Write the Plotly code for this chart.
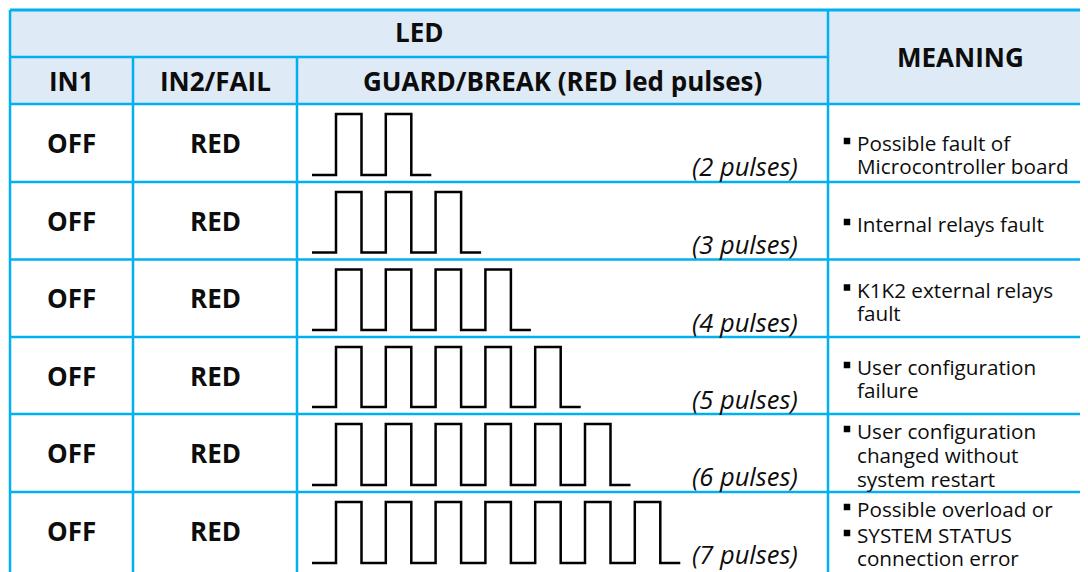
import plotly.graph_objects as go

# ---------------- data ----------------
in1_states = ["OFF", "OFF", "OFF", "OFF", "OFF", "OFF"]
in2_states = ["RED", "RED", "RED", "RED", "RED", "RED"]
pulse_counts = [2, 3, 4, 5, 6, 7]
pulse_labels = ["(2 pulses)", "(3 pulses)", "(4 pulses)", "(5 pulses)", "(6 pulses)", "(7 pulses)"]
meaning_lines = [
    [(True, "Possible fault of"), (False, "Microcontroller board")],
    [(True, "Internal relays fault")],
    [(True, "K1K2 external relays"), (False, "fault")],
    [(True, "User configuration"), (False, "failure")],
    [(True, "User configuration"), (False, "changed without"), (False, "system restart")],
    [(True, "Possible overload or"), (True, "SYSTEM STATUS"), (False, "connection error")],
]
header_top = "LED"
header_meaning = "MEANING"
header_cols = ["IN1", "IN2/FAIL", "GUARD/BREAK (RED led pulses)"]

# ---------------- geometry / style ----------------
W, H = 1088, 572
PAGE_MARGIN = 8  # default body margin of the html page
BORDER = "#00B0F0"
HEAD_BG = "#DEEAF6"
col_x = [10, 133, 297, 828, 1100]
row_y = [104, 182, 259.5, 337, 414, 492, 570]
top_y, mid_y = 10, 57
meaning_offsets = [[39, 62], [42], [30, 53], [30, 53], [17, 41, 65], [17, 43, 66]]
FONT = "Open Sans"
BOLD_SIZE = 26
LABEL_SIZE = 25.5
MEAN_SIZE = 20.7

fig = go.Figure()
shapes = []
annotations = []

# header background
shapes.append(dict(type="rect", x0=col_x[0], x1=W + 20, y0=top_y, y1=row_y[0],
                   fillcolor=HEAD_BG, line_width=0, layer="below"))


def hline(y, x0, x1, w=2.5):
    shapes.append(dict(type="line", x0=x0, x1=x1, y0=y, y1=y,
                       line=dict(color=BORDER, width=w)))


def vline(x, y0, y1, w=2.5):
    shapes.append(dict(type="line", x0=x, x1=x, y0=y0, y1=y1,
                       line=dict(color=BORDER, width=w)))


hline(top_y, col_x[0], W + 20, 3)
hline(mid_y, col_x[0], col_x[3])
for y in row_y[:-1]:
    hline(y, col_x[0], W + 20)
vline(col_x[0], top_y, H + 20)
vline(col_x[1], mid_y, H + 20)
vline(col_x[2], mid_y, H + 20)
vline(col_x[3], top_y, H + 20)


def text(x, y, s, size, bold=False, italic=False, xanchor="center"):
    if bold:
        s = "<b>" + s + "</b>"
    if italic:
        s = "<i>" + s + "</i>"
    annotations.append(dict(x=x, y=y, text=s, showarrow=False, xanchor=xanchor,
                            yanchor="middle", xref="x", yref="y", borderpad=0,
                            font=dict(family=FONT, size=size, color="#0d0d0d")))


# headers
text((col_x[0] + col_x[3]) / 2, 31.5, header_top, BOLD_SIZE, bold=True)
text((col_x[3] + 1092) / 2, (top_y + row_y[0]) / 2, header_meaning, BOLD_SIZE, bold=True)
for i, h in enumerate(header_cols):
    text((col_x[i] + col_x[i + 1]) / 2, (mid_y + row_y[0]) / 2, h, BOLD_SIZE, bold=True)

# rows
wave_x0, first_rise, high_w, period, tail = 312, 336, 25.5, 49.8, 20
for r in range(len(pulse_counts)):
    top, bot = row_y[r], row_y[r + 1]
    cy = (top + bot) / 2
    text((col_x[0] + col_x[1]) / 2, cy, in1_states[r], BOLD_SIZE, bold=True)
    text((col_x[1] + col_x[2]) / 2, cy, in2_states[r], BOLD_SIZE, bold=True)

    hi, lo = top + 10, bot - 7
    xs, ys = [wave_x0], [lo]
    for k in range(pulse_counts[r]):
        rise = first_rise + k * period
        fall = rise + high_w
        xs += [rise, rise, fall, fall]
        ys += [lo, hi, hi, lo]
    xs.append(xs[-1] + tail)
    ys.append(lo)
    fig.add_trace(go.Scatter(x=xs, y=ys, mode="lines", hoverinfo="skip",
                             line=dict(color="black", width=2.5, shape="linear"),
                             showlegend=False))
    text(799, top + 62, pulse_labels[r], LABEL_SIZE, italic=True, xanchor="right")

    bx, by = [], []
    for (bullet, line), off in zip(meaning_lines[r], meaning_offsets[r]):
        text(856, top + off, line, MEAN_SIZE, xanchor="left")
        if bullet:
            bx.append(847)
            by.append(top + off - 2)
    fig.add_trace(go.Scatter(x=bx, y=by, mode="markers", hoverinfo="skip",
                             marker=dict(symbol="square", size=6.5, color="black"),
                             showlegend=False))

# The page body has an 8px margin: shift the pixel-based axes so that
# data coordinates equal page pixel coordinates.
fig.update_layout(
    width=W - PAGE_MARGIN, height=H - PAGE_MARGIN, margin=dict(l=0, r=0, t=0, b=0),
    paper_bgcolor="white", plot_bgcolor="white",
    xaxis=dict(range=[PAGE_MARGIN, W], visible=False, fixedrange=True),
    yaxis=dict(range=[H, PAGE_MARGIN], visible=False, fixedrange=True),
    shapes=shapes, annotations=annotations,
)
fig.write_html("out.html")
